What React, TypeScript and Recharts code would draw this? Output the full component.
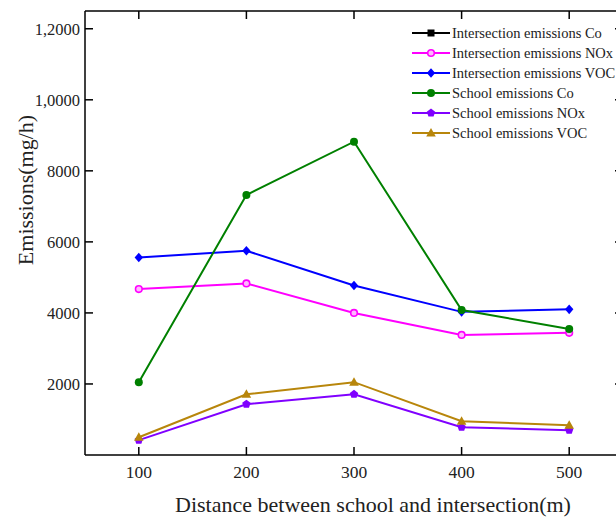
import { Label, Line, LineChart, ReferenceLine, XAxis, YAxis } from "recharts";

// distance from school to intersection (m)
const distances = [100, 200, 300, 400, 500];

// emissions in mg/h
const intersectionCo: (number | null)[] = [null, null, null, null, null];
const intersectionNOx = [4670, 4830, 4000, 3380, 3440];
const intersectionVOC = [5560, 5750, 4770, 4030, 4100];
const schoolCo = [2050, 7320, 8820, 4080, 3550];
const schoolNOx = [420, 1430, 1710, 780, 700];
const schoolVOC = [500, 1710, 2050, 950, 840];

const xTicks = [100, 200, 300, 400, 500];
const yTicks = [2000, 4000, 6000, 8000, 10000, 12000];
const yTickLabels = ["2000", "4000", "6000", "8000", "1,0000", "1,2000"];

const data = distances.map((d, i) => ({
  d,
  intersectionCo: intersectionCo[i],
  intersectionNOx: intersectionNOx[i],
  intersectionVOC: intersectionVOC[i],
  schoolCo: schoolCo[i],
  schoolNOx: schoolNOx[i],
  schoolVOC: schoolVOC[i],
}));

const FONT = "'Liberation Serif', 'Times New Roman', serif";
const PLOT_TOP = 11;
const PLOT_RIGHT = 623;
const TICK = 8;

type Shape = "square" | "ring" | "diamond" | "circle" | "pentagon" | "triangle";

const series: { key: string; name: string; color: string; shape: Shape }[] = [
  { key: "intersectionCo", name: "Intersection emissions Co", color: "#000000", shape: "square" },
  { key: "intersectionNOx", name: "Intersection emissions NOx", color: "#ff00ff", shape: "ring" },
  { key: "intersectionVOC", name: "Intersection emissions VOC", color: "#0000ff", shape: "diamond" },
  { key: "schoolCo", name: "School emissions Co", color: "#008000", shape: "circle" },
  { key: "schoolNOx", name: "School emissions NOx", color: "#8000ff", shape: "pentagon" },
  { key: "schoolVOC", name: "School emissions VOC", color: "#b8860b", shape: "triangle" },
];

function Marker({ cx, cy, shape, color }: { cx: number; cy: number; shape: Shape; color: string }) {
  switch (shape) {
    case "square":
      return <rect x={cx - 3.5} y={cy - 3.5} width={7} height={7} fill={color} />;
    case "ring":
      return <circle cx={cx} cy={cy} r={3.3} fill="#ffb8ff" stroke={color} strokeWidth={1.6} />;
    case "diamond":
      return <polygon points={`${cx},${cy - 4.8} ${cx + 4.2},${cy} ${cx},${cy + 4.8} ${cx - 4.2},${cy}`} fill={color} />;
    case "circle":
      return <circle cx={cx} cy={cy} r={4} fill={color} />;
    case "pentagon": {
      const pts = [0, 1, 2, 3, 4]
        .map((k) => {
          const a = -Math.PI / 2 + (k * 2 * Math.PI) / 5;
          return `${cx + 4.4 * Math.cos(a)},${cy + 4.4 * Math.sin(a)}`;
        })
        .join(" ");
      return <polygon points={pts} fill={color} />;
    }
    default:
      return <polygon points={`${cx},${cy - 5} ${cx + 4.8},${cy + 3.5} ${cx - 4.8},${cy + 3.5}`} fill={color} />;
  }
}

const makeDot = (shape: Shape, color: string) => (p: any) => {
  if (p.cx == null || p.cy == null || p.value == null) return <g key={p.index} />;
  return <Marker key={p.index} cx={p.cx} cy={p.cy} shape={shape} color={color} />;
};

// bottom ticks: inward tick, mirrored tick on top frame, label
function XTick({ x, y, payload }: any) {
  return (
    <g>
      <line x1={x} y1={y} x2={x} y2={y - TICK} stroke="#000" strokeWidth={1.5} />
      <line x1={x} y1={PLOT_TOP} x2={x} y2={PLOT_TOP + TICK} stroke="#000" strokeWidth={1.5} />
      <text x={x} y={y + 23} textAnchor="middle" fontFamily={FONT} fontSize={17.5} fill="#222">
        {payload.value}
      </text>
    </g>
  );
}

// left ticks: inward tick, mirrored tick on right frame, label
function YTick({ x, y, payload }: any) {
  const i = yTicks.indexOf(payload.value);
  return (
    <g>
      <line x1={x} y1={y} x2={x + TICK} y2={y} stroke="#000" strokeWidth={1.5} />
      <line x1={PLOT_RIGHT - TICK} y1={y} x2={PLOT_RIGHT} y2={y} stroke="#000" strokeWidth={1.5} />
      <text x={x - 5} y={y} dy="0.35em" textAnchor="end" fontFamily={FONT} fontSize={16.5} fill="#222">
        {i >= 0 ? yTickLabels[i] : payload.value}
      </text>
    </g>
  );
}

function YTitle({ viewBox }: any) {
  const cy = viewBox.y + viewBox.height / 2 - 43;
  return (
    <text
      x={25}
      y={cy}
      transform={`rotate(-90, 25, ${cy})`}
      textAnchor="middle"
      dominantBaseline="central"
      fontFamily={FONT}
      fontSize={22}
      fill="#222"
    >
      Emissions(mg/h)
    </text>
  );
}

function XTitle({ viewBox }: any) {
  const cx = viewBox.x + viewBox.width / 2 + 19;
  return (
    <text x={cx} y={512} textAnchor="middle" fontFamily={FONT} fontSize={22} fill="#222">
      Distance between school and intersection(m)
    </text>
  );
}

function LegendBox() {
  return (
    <div style={{ position: "absolute", left: 411, top: 23, fontFamily: FONT, fontSize: 14.5, color: "#222" }}>
      {series.map((s) => (
        <div key={s.key} style={{ display: "flex", alignItems: "center", height: 20 }}>
          <svg width={40} height={14} style={{ display: "block" }}>
            <line x1={1} y1={7} x2={39} y2={7} stroke={s.color} strokeWidth={2} />
            <Marker cx={20} cy={7} shape={s.shape} color={s.color} />
          </svg>
          <span style={{ marginLeft: 1, whiteSpace: "nowrap" }}>{s.name}</span>
        </div>
      ))}
    </div>
  );
}

export default function App() {
  return (
    <div
      style={{
        position: "absolute",
        left: 0,
        top: 0,
        width: 616,
        height: 520,
        overflow: "hidden",
        background: "#fff",
      }}
    >
      <LineChart width={630} height={520} data={data} margin={{ top: PLOT_TOP, right: 7, bottom: 0, left: 0 }}>
        <XAxis
          dataKey="d"
          type="number"
          domain={[50, 550]}
          ticks={xTicks}
          height={65}
          tickSize={0}
          tickMargin={0}
          tick={<XTick />}
          axisLine={{ stroke: "#000", strokeWidth: 1.5 }}
          tickLine={false}
        >
          <Label content={<XTitle />} />
        </XAxis>
        <YAxis
          type="number"
          domain={[0, 12500]}
          ticks={yTicks}
          width={85}
          tickSize={0}
          tickMargin={0}
          tick={<YTick />}
          axisLine={{ stroke: "#000", strokeWidth: 1.5 }}
          tickLine={false}
        >
          <Label content={<YTitle />} />
        </YAxis>
        <ReferenceLine y={12500} stroke="#000" strokeWidth={1.5} />
        <ReferenceLine x={550} stroke="#000" strokeWidth={1.5} />
        {series.map((s) => (
          <Line
            key={s.key}
            dataKey={s.key}
            name={s.name}
            type="linear"
            stroke={s.color}
            strokeWidth={2}
            dot={makeDot(s.shape, s.color)}
            activeDot={false}
            isAnimationActive={false}
          />
        ))}
      </LineChart>
      <LegendBox />
    </div>
  );
}
